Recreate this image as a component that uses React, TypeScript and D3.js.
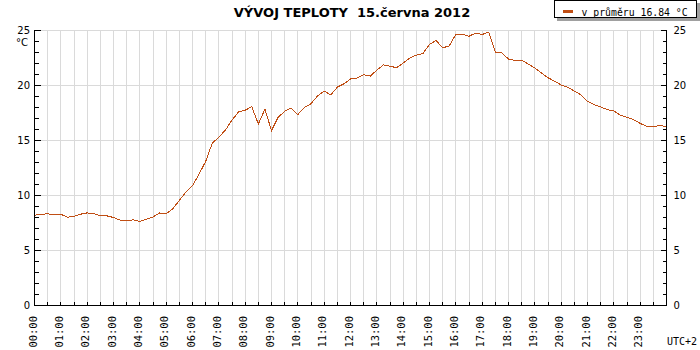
import React, { useEffect, useRef } from 'react';
import * as d3 from 'd3';

// Temperature readings, one every 15 minutes from 00:00 to 24:00
const STEP_MINUTES = 15;
const temperatures: number[] = [
    8.20, 8.30, 8.33, 8.24,   // 00
    8.30, 8.02, 8.10, 8.30,   // 01
    8.42, 8.34, 8.18, 8.15,   // 02
    8.00, 7.76, 7.73, 7.78,   // 03
    7.64, 7.85, 8.05, 8.42,   // 04
    8.33, 8.80, 9.55, 10.30,  // 05
    10.90, 11.95, 13.10, 14.75, // 06
    15.30, 15.95, 16.85, 17.60, // 07
    17.75, 18.08, 16.50, 17.85, // 08
    15.90, 17.10, 17.65, 17.95, // 09
    17.36, 18.00, 18.35, 19.05, // 10
    19.50, 19.15, 19.85, 20.15, // 11
    20.60, 20.67, 20.98, 20.85, // 12
    21.40, 21.88, 21.76, 21.61, // 13
    22.05, 22.50, 22.76, 22.90, // 14
    23.75, 24.09, 23.42, 23.60, // 15
    24.64, 24.68, 24.48, 24.76, // 16
    24.64, 24.85, 23.03, 22.97, // 17
    22.40, 22.27, 22.30, 21.95, // 18
    21.60, 21.15, 20.70, 20.40, // 19
    20.05, 19.85, 19.50, 19.15, // 20
    18.55, 18.26, 18.06, 17.80, // 21
    17.68, 17.30, 17.10, 16.90, // 22
    16.55, 16.30, 16.25, 16.36, // 23
    16.28,
];

const hourLabels = [
    '00:00', '01:00', '02:00', '03:00', '04:00', '05:00', '06:00', '07:00',
    '08:00', '09:00', '10:00', '11:00', '12:00', '13:00', '14:00', '15:00',
    '16:00', '17:00', '18:00', '19:00', '20:00', '21:00', '22:00', '23:00',
];
const yLabels = [0, 5, 10, 15, 20, 25];

const chartTitle = 'VÝVOJ TEPLOTY  15.června 2012';
const legendLabel = 'v průměru 16.84 °C';
const unitLabel = '°C';
const zoneLabel = 'UTC+2';

const LINE_COLOR = '#c04e14';
const GRID_COLOR = '#dadada';

const App: React.FC = () => {
    const svgRef = useRef<SVGSVGElement | null>(null);

    useEffect(() => {
        if (!svgRef.current) return;
        const svg = d3.select(svgRef.current);
        svg.selectAll('*').remove();

        const plot = { left: 34.5, right: 666.5, top: 30.5, bottom: 305.5 };
        const x = d3.scaleLinear().domain([0, 24 * 60]).range([plot.left, plot.right]);
        const y = d3.scaleLinear().domain([0, 25]).range([plot.bottom, plot.top]);
        const crisp = (v: number) => Math.floor(v) + 0.5;

        svg.append('rect').attr('width', 700).attr('height', 350).attr('fill', '#fff');

        // grid
        const grid = svg.append('g').attr('stroke', GRID_COLOR).attr('shape-rendering', 'crispEdges');
        d3.range(30, 24 * 60, 30).forEach(m => {
            grid.append('line')
                .attr('x1', crisp(x(m))).attr('x2', crisp(x(m)))
                .attr('y1', plot.top).attr('y2', plot.bottom);
        });
        yLabels.filter(v => v > 0).forEach(v => {
            grid.append('line')
                .attr('x1', plot.left).attr('x2', plot.right)
                .attr('y1', crisp(y(v))).attr('y2', crisp(y(v)));
        });

        // axes
        const axes = svg.append('g').attr('stroke', '#000').attr('shape-rendering', 'crispEdges');
        axes.append('line').attr('x1', plot.left).attr('x2', plot.left).attr('y1', plot.top - 0.5).attr('y2', plot.bottom);
        axes.append('line').attr('x1', plot.right).attr('x2', plot.right).attr('y1', plot.top - 0.5).attr('y2', plot.bottom);
        axes.append('line').attr('x1', plot.left - 0.5).attr('x2', plot.right + 0.5).attr('y1', plot.bottom).attr('y2', plot.bottom);

        d3.range(0, 26).forEach(v => {
            const len = v % 5 === 0 ? 6 : 4;
            const yy = crisp(y(v));
            axes.append('line').attr('x1', plot.left).attr('x2', plot.left + len).attr('y1', yy).attr('y2', yy);
            axes.append('line').attr('x1', plot.right - len).attr('x2', plot.right).attr('y1', yy).attr('y2', yy);
        });
        d3.range(30, 24 * 60, 30).forEach(m => {
            const xx = crisp(x(m));
            axes.append('line').attr('x1', xx).attr('x2', xx).attr('y1', plot.bottom - 4).attr('y2', plot.bottom);
        });

        // y labels both sides
        const labelFont = 'DejaVu Sans, sans-serif';
        yLabels.forEach(v => {
            svg.append('text')
                .attr('x', 30).attr('y', y(v)).attr('dy', '0.36em')
                .attr('text-anchor', 'end')
                .style('font-family', labelFont).style('font-size', '10px')
                .text(v);
            svg.append('text')
                .attr('x', 673.5).attr('y', y(v)).attr('dy', '0.36em')
                .style('font-family', labelFont).style('font-size', '10px')
                .text(v);
        });
        svg.append('text')
            .attr('x', 28).attr('y', 46).attr('text-anchor', 'end')
            .style('font-family', labelFont).style('font-size', '10px')
            .text(unitLabel);

        // x labels, rotated
        const monoFont = 'DejaVu Sans Mono, monospace';
        hourLabels.forEach((label, i) => {
            svg.append('text')
                .attr('transform', `translate(${x(i * 60) + 2},316) rotate(-90)`)
                .attr('text-anchor', 'end')
                .style('font-family', monoFont).style('font-size', '10.5px')
                .text(label);
        });
        svg.append('text')
            .attr('x', 667).attr('y', 345)
            .style('font-family', monoFont).style('font-size', '10px')
            .text(zoneLabel);

        // temperature line
        const line = d3.line<number>()
            .x((_, i) => x(i * STEP_MINUTES))
            .y(d => y(d));
        svg.append('path')
            .datum(temperatures)
            .attr('fill', 'none')
            .attr('stroke', LINE_COLOR)
            .attr('stroke-width', 1)
            .attr('shape-rendering', 'crispEdges')
            .attr('d', line);

        // title
        svg.append('text')
            .attr('x', 352).attr('y', 17)
            .attr('text-anchor', 'middle')
            .style('font-family', labelFont).style('font-size', '13px').style('font-weight', 'bold')
            .style('white-space', 'pre')
            .text(chartTitle);

        // legend box with shadow
        const legend = svg.append('g').attr('shape-rendering', 'crispEdges');
        legend.append('rect').attr('x', 557).attr('y', 3).attr('width', 143).attr('height', 18).attr('fill', '#a0a0a0');
        legend.append('rect').attr('x', 554.5).attr('y', 0.5).attr('width', 142).attr('height', 17)
            .attr('fill', '#fff').attr('stroke', '#000');
        legend.append('line').attr('x1', 563).attr('x2', 573).attr('y1', 11.5).attr('y2', 11.5)
            .attr('stroke', LINE_COLOR).attr('stroke-width', 2.5);
        svg.append('text')
            .attr('x', 581.5).attr('y', 15.5)
            .style('font-family', monoFont).style('font-size', '9.8px')
            .text(legendLabel);
    }, []);

    return (
        <svg
            ref={svgRef}
            width={700}
            height={350}
            style={{ position: 'absolute', left: 0, top: 0, display: 'block' }}
        />
    );
};

export default App;
